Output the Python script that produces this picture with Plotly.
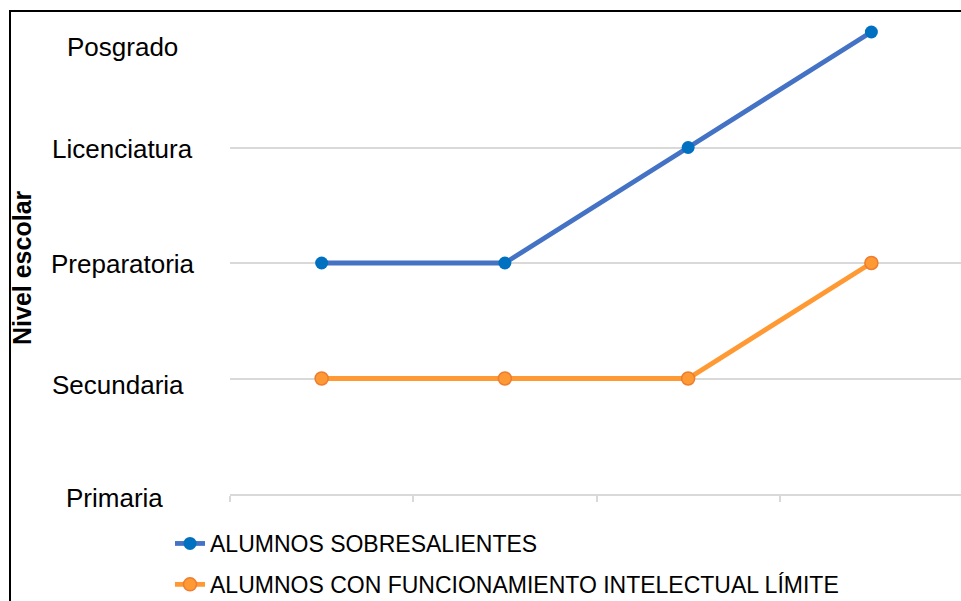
import plotly.graph_objects as go

# Education levels shown on the vertical axis, lowest to highest
levels = ["Primaria", "Secundaria", "Preparatoria", "Licenciatura", "Posgrado"]

# Four positions along the horizontal axis (no visible labels)
positions = [0, 1, 2, 3]

# Level reached by each group at every position
sobresalientes = ["Preparatoria", "Preparatoria", "Licenciatura", "Posgrado"]
limite = ["Secundaria", "Secundaria", "Secundaria", "Preparatoria"]

series_names = [
    "ALUMNOS SOBRESALIENTES",
    "ALUMNOS CON FUNCIONAMIENTO INTELECTUAL LÍMITE",
]

FONT = "Liberation Sans, Arial, sans-serif"
W, H = 961, 601
ML, MR, MT, MB = 230, 0, 32, 107
PW = W - ML - MR
PH = H - MT - MB


def px_x(p):
    return (p - ML) / PW


def px_y(p):
    return (H - MB - p) / PH


level_index = {name: i for i, name in enumerate(levels)}

fig = go.Figure()
fig.add_trace(go.Scatter(
    x=positions, y=[level_index[v] for v in sobresalientes],
    name=series_names[0], legendgroup="a",
    mode="lines+markers", cliponaxis=False,
    line=dict(color="#4472C4", width=4.8),
    marker=dict(color="#0070C0", size=13, line=dict(width=0)),
))
fig.add_trace(go.Scatter(
    x=positions, y=[level_index[v] for v in limite],
    name=series_names[1], legendgroup="b",
    mode="lines+markers", cliponaxis=False,
    line=dict(color="#FF9933", width=4.8),
    marker=dict(color="#FF9933", size=13, line=dict(color="#ED7D31", width=1.5)),
))

# Level names as free text beside the grid lines
label_cx = [115, 118, 123, 122, 123]
label_dy = [-4, -6, -1, -1, -15]
for i, name in enumerate(levels):
    fig.add_annotation(
        x=px_x(label_cx[i]), xref="paper", y=i, yref="y",
        text=name, showarrow=False, xanchor="center", yanchor="middle",
        yshift=label_dy[i],
        font=dict(family=FONT, size=26, color="#000000"),
    )

fig.add_annotation(
    x=px_x(22), xref="paper", y=px_y(268), yref="paper",
    text="<b>Nivel escolar</b>", textangle=-90, showarrow=False,
    xanchor="center", yanchor="middle",
    font=dict(family=FONT, size=25, color="#000000"),
)

# Outer frame
fig.add_shape(
    type="rect", xref="paper", yref="paper",
    x0=px_x(10), x1=px_x(W + 20), y0=px_y(H + 20), y1=px_y(11),
    line=dict(color="#000000", width=2), fillcolor="rgba(0,0,0,0)",
)

fig.update_layout(
    width=W, height=H,
    margin=dict(l=ML, r=MR, t=MT, b=MB, autoexpand=False),
    paper_bgcolor="white", plot_bgcolor="white",
    showlegend=True,
    legend=dict(
        x=px_x(170), y=px_y(522), xanchor="left", yanchor="top",
        font=dict(family=FONT, size=23, color="#000000"),
        tracegroupgap=8, bgcolor="rgba(0,0,0,0)",
    ),
    xaxis=dict(
        range=[-0.5, -0.5 + PW / 183.25], showgrid=False, zeroline=False,
        showline=True, linecolor="#D9D9D9", linewidth=2,
        tickvals=[-0.5, 0.5, 1.5, 2.5, 3.5], ticks="outside",
        ticklen=6, tickwidth=2, tickcolor="#D9D9D9", showticklabels=False,
        fixedrange=True,
    ),
    yaxis=dict(
        range=[0, 4], tickvals=list(range(len(levels))),
        showticklabels=False, showgrid=True, gridcolor="#D9D9D9",
        gridwidth=2, zeroline=False, ticks="", fixedrange=True,
    ),
)

fig.write_html("out.html")
